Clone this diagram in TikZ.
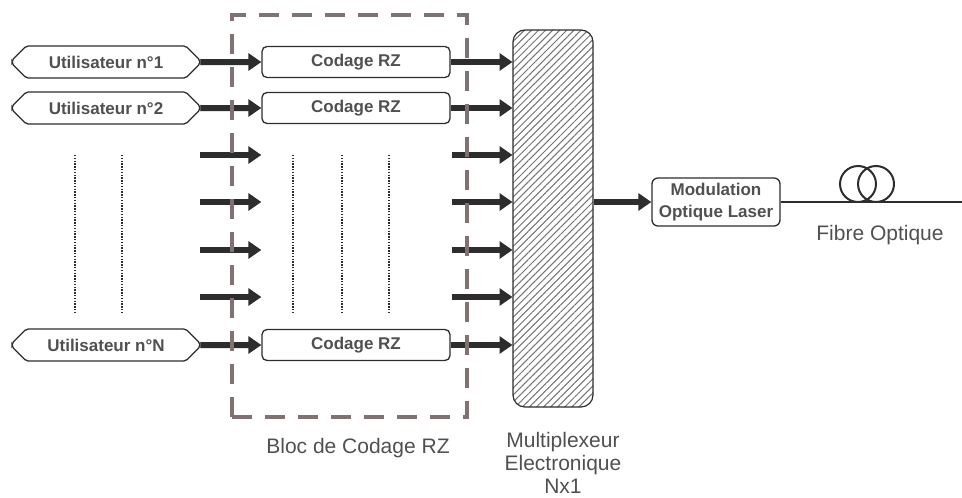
\documentclass[tikz,border=0pt]{standalone}
\usepackage{fontspec}
\setmainfont{Liberation Sans}
\usetikzlibrary{arrows.meta,shapes.misc,patterns.meta}
\definecolor{trait}{RGB}{45,45,45}
\definecolor{bloc}{RGB}{128,114,114}
\definecolor{legende}{RGB}{80,80,80}
\begin{document}
\begin{tikzpicture}[x=1pt, y=-1pt,
    user/.style={chamfered rectangle, chamfered rectangle xsep=8pt,
      chamfered rectangle ysep=8pt, rounded corners=2pt, draw=trait,
      line width=1.3pt, minimum width=188pt, minimum height=32pt,
      inner sep=0pt, font=\fontsize{17}{19}\selectfont\bfseries, text=legende},
    codeur/.style={rectangle, rounded corners=5pt, draw=trait, line width=1.3pt,
      minimum width=188pt, minimum height=31pt, inner sep=0pt,
      font=\fontsize{17}{19}\selectfont\bfseries, text=legende},
    modul/.style={rectangle, rounded corners=6pt, draw=trait, line width=1.3pt,
      minimum width=128pt, minimum height=48pt, inner sep=2pt, align=center,
      font=\fontsize{17}{22}\selectfont\bfseries, text=legende},
    muxbox/.style={rectangle, rounded corners=12pt, draw=trait, line width=1.2pt,
      minimum width=80pt, minimum height=377pt, inner sep=0pt,
      pattern={Lines[angle=45,distance=5pt,line width=1pt]},
      pattern color=black!55},
    blocbox/.style={rectangle, draw=bloc, line width=4.5pt,
      dash pattern=on 20pt off 13pt, minimum width=235pt, minimum height=402pt},
    fleche/.style={draw=trait, line width=6pt, -{Triangle[length=13pt,width=17pt]}},
    pointille/.style={draw=trait, line width=2.6pt, dash pattern=on 1.4pt off 1.4pt},
    fibre/.style={draw=trait, line width=2pt},
    legend/.style={text=legende, font=\fontsize{21}{23}\selectfont}
  ]
    \useasboundingbox (0,0) rectangle (962,498);
    % utilisateurs et codage RZ
    \node[user]   (u1) at (106,62)  {Utilisateur n°1};
    \node[user]   (u2) at (106,108) {Utilisateur n°2};
    \node[user]   (uN) at (106,345) {Utilisateur n°N};
    \node[codeur] (c1) at (356,62)  {Codage RZ};
    \node[codeur] (c2) at (356,108) {Codage RZ};
    \node[codeur] (cN) at (356,345) {Codage RZ};
    % multiplexeur et modulation
    \node[muxbox] (mux) at (553,218.5) {};
    \node[modul]  (mod) at (716,202) {Modulation\\Optique Laser};
    \draw[fleche] (u1) -- (c1);
    \draw[fleche] (u2) -- (c2);
    \draw[fleche] (uN) -- (cN);
    \foreach \c in {c1,c2,cN} {
      \draw[fleche] (\c) -- (\c -| mux.west);
    }
    \foreach \y [count=\i] in {155,202,250,297} {
      \coordinate (g\i) at (200,\y);
      \coordinate (d\i) at (452,\y);
      \draw[fleche] (g\i) -- (g\i -| c1.west);
      \draw[fleche] (d\i) -- (d\i -| mux.west);
    }
    \foreach \x in {75,122,293,342,389} {
      \draw[pointille] (\x,155) -- (\x,313);
    }
    \draw[fleche] (mux.east |- mod.west) -- (mod.west);
    % fibre optique
    \coordinate (fin) at (962,202);
    \draw[fibre] (mod.east) -- (fin);
    \draw[fibre] (858,184) circle[radius=18pt] (876,184) circle[radius=18pt];
    % bloc de codage
    \node[blocbox] (bloc) at (349.5,216) {};
    \node[legend] at (358,448) {Bloc de Codage RZ};
    \node[legend] at (880,235) {Fibre Optique};
    \node[legend, align=center] at (563,463) {Multiplexeur\\Electronique\\Nx1};
  \end{tikzpicture}
\end{document}
